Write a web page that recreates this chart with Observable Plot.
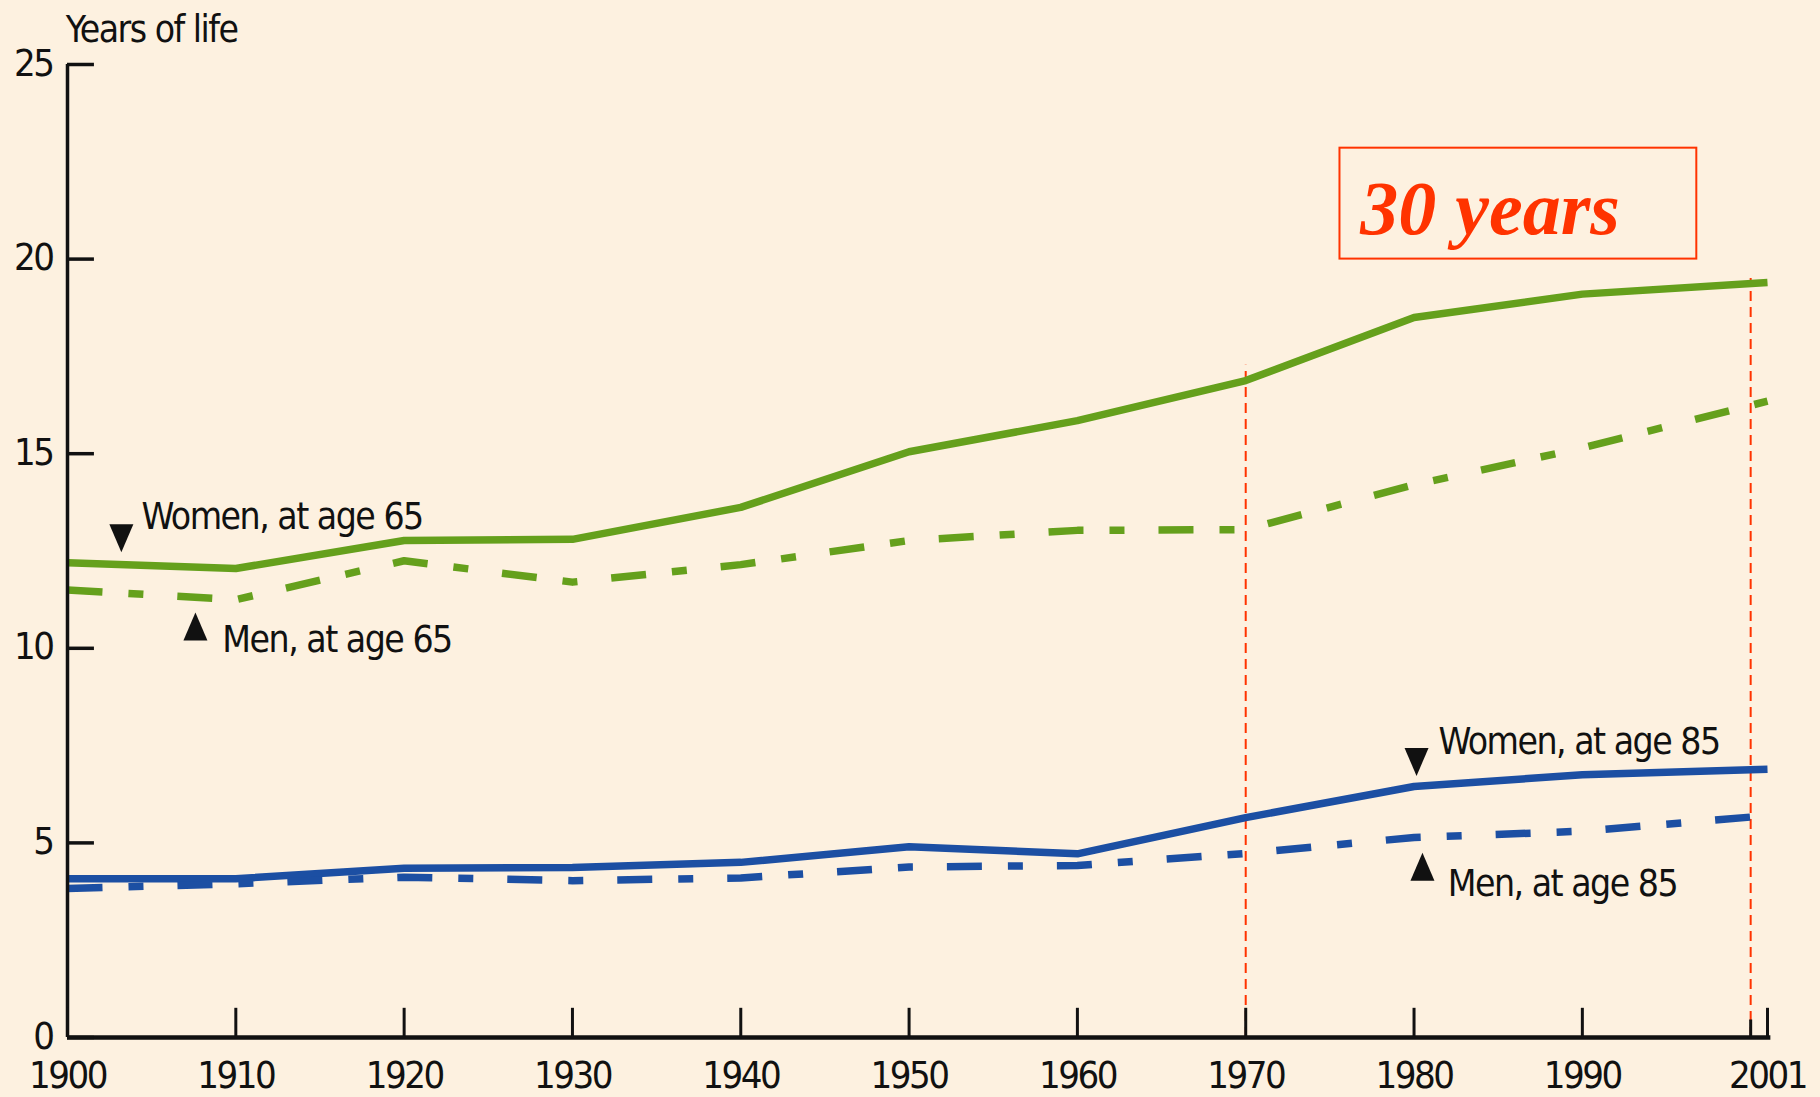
<!DOCTYPE html>
<html>
<head>
<meta charset="utf-8">
<script src="https://cdn.jsdelivr.net/npm/d3@7"></script>
<script src="https://cdn.jsdelivr.net/npm/@observablehq/plot@0.6"></script>
<style>
  html, body { margin: 0; padding: 0; background: #fdf1e0; }
  #chart svg { display: block; }
</style>
</head>
<body>
<div id="chart"></div>
<script>
// ---- data ----
const years = [1900, 1910, 1920, 1930, 1940, 1950, 1960, 1970, 1980, 1990, 2001];
const women65 = [12.2, 12.05, 12.77, 12.8, 13.62, 15.05, 15.85, 16.88, 18.5, 19.1, 19.4];
const men65   = [11.5, 11.25, 12.25, 11.7, 12.15, 12.77, 13.03, 13.05, 14.2, 15.15, 16.35];
const women85 = [4.08, 4.08, 4.35, 4.37, 4.5, 4.9, 4.72, 5.65, 6.45, 6.75, 6.89];
const men85   = [3.83, 3.95, 4.12, 4.03, 4.1, 4.38, 4.42, 4.73, 5.14, 5.3, 5.7];

const xTicks = [1900, 1910, 1920, 1930, 1940, 1950, 1960, 1970, 1980, 1990, 2001];
const yTicks = [0, 5, 10, 15, 20, 25];

const seriesNames = ["Women, at age 65", "Men, at age 65", "Women, at age 85", "Men, at age 85"];
const seriesValues = [women65, men65, women85, men85];

// label annotations: text, x (year), y (years of life)
const labelText = ["Women, at age 65", "Men, at age 65", "Women, at age 85", "Men, at age 85"];
const labelX = [1904.4, 1909.2, 1981.45, 1982.0];
const labelY = [13.36, 10.2, 7.58, 3.93];
// pointer triangles
const pointerX = [1903.2, 1907.6, 1980.15, 1980.5];
const pointerY = [12.83, 10.56, 7.08, 4.39];
const pointerDir = ["down", "up", "down", "up"];
// highlighted period (red dashed markers)
const markYears = [1970, 2000];
const markTops = [17.27, 19.5];
const boxText = "30 years";

// ---- styles ----
const GREEN = "#65a01c";
const BLUE = "#1c4fa3";
const RED = "#ff3300";
const SANS = "'Liberation Sans Narrow', 'DejaVu Sans Condensed', 'Roboto Condensed', 'Liberation Sans', sans-serif";
const DASHDOT = "35,26,15,34";

const rows = [];
seriesNames.forEach((name, i) => {
  years.forEach((yr, j) => rows.push({series: name, year: yr, value: seriesValues[i][j]}));
});
const styleOf = {
  "Women, at age 65": {stroke: GREEN, dash: null},
  "Men, at age 65": {stroke: GREEN, dash: DASHDOT},
  "Women, at age 85": {stroke: BLUE, dash: null},
  "Men, at age 85": {stroke: BLUE, dash: DASHDOT}
};

const labels = labelText.map((t, i) => ({text: t, x: labelX[i], y: labelY[i]}));
const pointers = pointerX.map((x, i) => ({x, y: pointerY[i], dir: pointerDir[i]}));
const marks = markYears.map((yr, i) => ({year: yr, top: markTops[i]}));

const triDown = {draw(ctx) { ctx.moveTo(-12, -14); ctx.lineTo(12, -14); ctx.lineTo(0, 14); ctx.closePath(); }};
const triUp = {draw(ctx) { ctx.moveTo(-12, 14); ctx.lineTo(12, 14); ctx.lineTo(0, -14); ctx.closePath(); }};

const lineMarks = seriesNames.map(name => Plot.line(rows.filter(d => d.series === name), {
  x: "year", y: "value",
  stroke: styleOf[name].stroke,
  strokeWidth: 7.5,
  strokeDasharray: styleOf[name].dash || undefined,
  strokeLinecap: "butt",
  strokeLinejoin: "round"
}));

const chart = Plot.plot({
  width: 1820,
  height: 1097,
  marginLeft: 67,
  marginRight: 53,
  marginTop: 64,
  marginBottom: 60,
  style: {background: "#fdf1e0", fontFamily: SANS, fontSize: "38px", color: "#111"},
  x: {domain: [1900, 2001], label: null},
  y: {domain: [0, 25], label: null},
  marks: [
    // red dashed period markers
    Plot.ruleX(marks, {x: "year", y1: 0, y2: "top", stroke: RED, strokeWidth: 2, strokeDasharray: "10,6"}),
    // "30 years" box
    Plot.rect([{x1: 1975.6, x2: 1996.8, y1: 20.0, y2: 22.85}], {x1: "x1", x2: "x2", y1: "y1", y2: "y2", fill: "none", stroke: RED, strokeWidth: 2}),
    Plot.text([boxText], {x: 1976.8, y: 21.27, text: d => d, textAnchor: "start", fill: RED,
      fontFamily: "'Liberation Serif', 'Times New Roman', serif", fontWeight: "bold", fontStyle: "italic", fontSize: 76}),
    // data lines
    ...lineMarks,
    // axes
    Plot.ruleX([1900], {y1: 0, y2: 25, stroke: "#111", strokeWidth: 3.5}),
    Plot.ruleY([0], {x1: 1900, x2: 2001.2, stroke: "#111", strokeWidth: 4.5}),
    Plot.ruleY(yTicks, {x1: 1900, x2: 1901.6, stroke: "#111", strokeWidth: 3.5}),
    Plot.ruleX(xTicks, {y1: 0, y2: 0.75, stroke: "#111", strokeWidth: 3}),
    Plot.ruleX([2000], {y1: 0, y2: 0.45, stroke: "#111", strokeWidth: 3}),
    Plot.axisY({ticks: yTicks, tickSize: 0, tickPadding: 15, dy: -1, tickFormat: d => String(d), fontSize: 38}),
    Plot.axisX({ticks: xTicks, tickSize: 0, tickPadding: 24, tickFormat: d => String(d), fontSize: 38}),
    // title
    Plot.text(["Years of life"], {x: 1899.9, y: 25.87, text: d => d, textAnchor: "start", fontSize: 37, fill: "#111"}),
    // series labels
    Plot.text(labels, {x: "x", y: "y", text: "text", textAnchor: "start", fontSize: 37, fill: "#111"}),
    Plot.dot(pointers.filter(d => d.dir === "down"), {x: "x", y: "y", symbol: triDown, fill: "#111", stroke: null, r: 10}),
    Plot.dot(pointers.filter(d => d.dir === "up"), {x: "x", y: "y", symbol: triUp, fill: "#111", stroke: null, r: 10})
  ]
});

// narrow the sans-serif texts to match the condensed original face
const tickStrings = new Set([...xTicks, ...yTicks].map(String));
d3.select(chart).selectAll("text").each(function () {
  const t = this.textContent;
  if (t === boxText) return;
  d3.select(this).style("letter-spacing", tickStrings.has(t) ? "-2.5px" : "-1.5px");
});
document.getElementById("chart").appendChild(chart);
</script>
</body>
</html>
